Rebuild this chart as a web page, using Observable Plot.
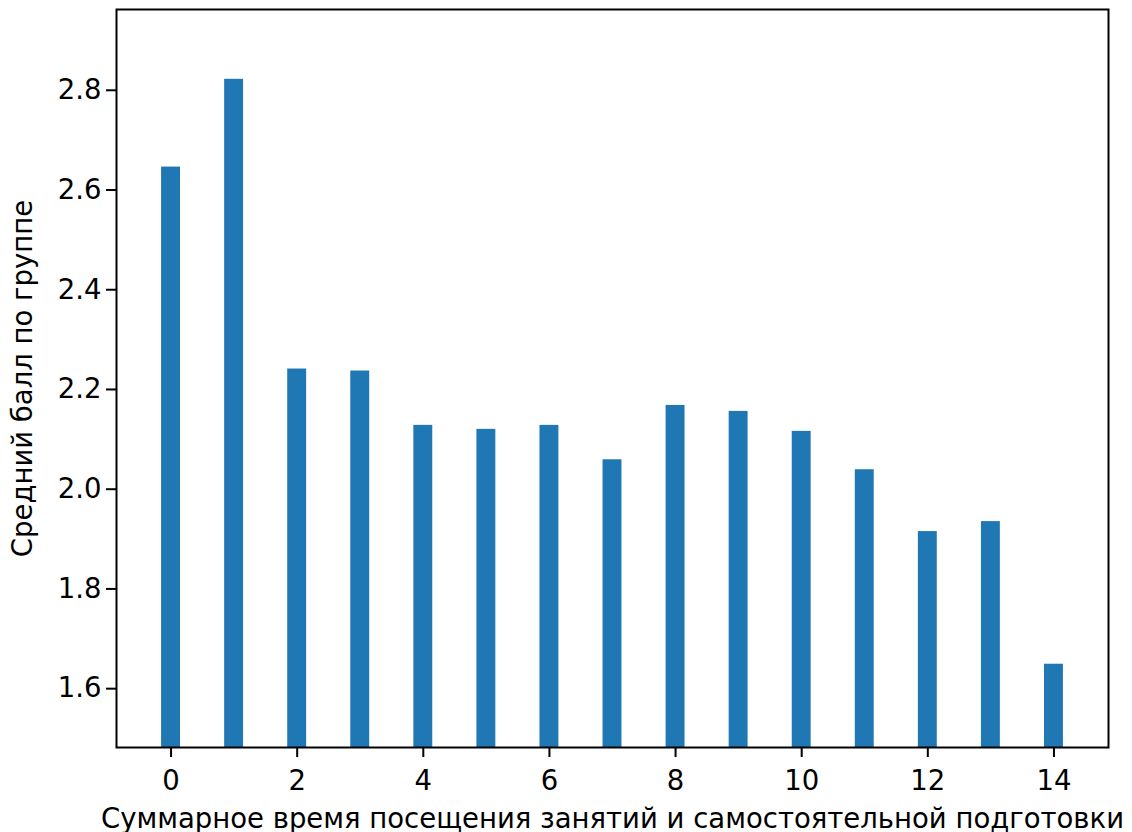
<!DOCTYPE html>
<html>
<head>
<meta charset="utf-8">
<script src="https://cdn.jsdelivr.net/npm/d3@7"></script>
<script src="https://cdn.jsdelivr.net/npm/@observablehq/plot@0.6"></script>
<style>
  html, body { margin: 0; padding: 0; background: #fff; }
</style>
</head>
<body>
<div id="chart"></div>
<script>
const hours = [0, 1, 2, 3, 4, 5, 6, 7, 8, 9, 10, 11, 12, 13, 14];
const scores = [2.646, 2.822, 2.241, 2.237, 2.128, 2.120, 2.128, 2.059, 2.168, 2.156, 2.116, 2.039, 1.915, 1.935, 1.649];
const xTicks = [0, 2, 4, 6, 8, 10, 12, 14];
const yTicks = [1.6, 1.8, 2.0, 2.2, 2.4, 2.6, 2.8];
const xLabel = "Суммарное время посещения занятий и самостоятельной подготовки";
const yLabel = "Средний балл по группе";
const barWidth = 0.3;

const data = hours.map((h, i) => ({ h, v: scores[i] }));

const chart = Plot.plot({
  width: 1132,
  height: 832,
  marginLeft: 116,
  marginRight: 24,
  marginTop: 9,
  marginBottom: 85,
  style: { fontFamily: "DejaVu Sans", fontSize: "27.5px", color: "#000", background: "#fff" },
  x: { domain: [-0.865, 14.865] },
  y: { domain: [1.482, 2.962] },
  marks: [
    Plot.rectY(data, {
      x1: d => d.h - barWidth / 2,
      x2: d => d.h + barWidth / 2,
      y1: 0,
      y2: "v",
      fill: "#1f77b4",
      clip: true
    }),
    Plot.axisX({
      ticks: xTicks,
      tickSize: 10,
      tickPadding: 13,
      tickFormat: d => String(d),
      label: xLabel,
      labelAnchor: "center",
      labelArrow: "none",
      labelOffset: 80,
      strokeWidth: 2
    }),
    Plot.axisY({
      ticks: yTicks,
      tickSize: 10,
      tickPadding: 5,
      tickFormat: d3.format(".1f"),
      label: yLabel,
      labelAnchor: "center",
      labelArrow: "none",
      labelOffset: 104,
      strokeWidth: 2
    }),
    Plot.frame({ stroke: "#000", strokeWidth: 2 })
  ]
});
document.getElementById("chart").appendChild(chart);
</script>
</body>
</html>
